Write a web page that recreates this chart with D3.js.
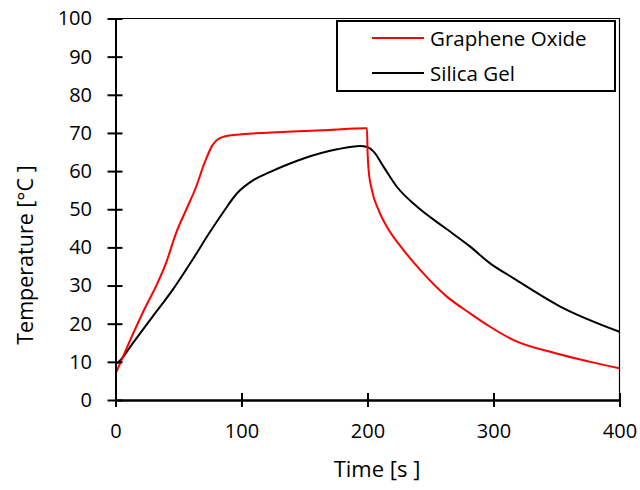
<!DOCTYPE html>
<html>
<head>
<meta charset="utf-8">
<script src="https://cdn.jsdelivr.net/npm/d3@7"></script>
<style>
  body { margin: 0; background: #fff; }
  svg { display: block; }
  text { font-family: "Open Sans", "DejaVu Sans", sans-serif; fill: #000; }
</style>
</head>
<body>
<svg id="chart" width="640" height="490"></svg>
<script>
// ---- data ----
const goTime = [0.2, 8.2, 24, 32, 40, 48, 56, 64, 70.5, 77, 82.4, 92, 136, 170, 198.2, 199.6, 200.1, 200.9, 203.5, 208.8, 215.4, 228.6, 241.8, 263, 281.5, 297.3, 316, 350, 377, 400];
const goTemp = [7.0, 13.1, 24.5, 29.7, 35.8, 43.7, 49.8, 55.9, 62.0, 66.8, 68.6, 69.4, 70.3, 70.8, 71.2, 71.2, 64.6, 60.3, 55.0, 49.8, 45.4, 39.3, 34.1, 27.1, 22.7, 19.2, 15.7, 12.2, 10.0, 8.3];
const sgTime = [1, 2.6, 13.5, 29.3, 45.2, 61, 74.3, 84.8, 96.5, 109.7, 122.9, 149.3, 175.8, 194.3, 199.6, 204.9, 212.8, 223.3, 239.2, 260.3, 281.5, 297.3, 316, 353, 400];
const sgTemp = [9.6, 10.0, 14.8, 21.8, 28.8, 36.7, 43.7, 48.9, 54.2, 57.7, 59.8, 63.3, 65.7, 66.6, 66.3, 65.1, 61.1, 55.9, 50.7, 45.4, 40.2, 35.8, 31.9, 24.5, 17.9];
const xTicks = [0, 100, 200, 300, 400];
const yTicks = [0, 10, 20, 30, 40, 50, 60, 70, 80, 90, 100];
const seriesNames = ["Graphene Oxide", "Silica Gel"];
const seriesColors = ["#ff0000", "#000000"];

const svg = d3.select("#chart");
const x = d3.scaleLinear().domain([0, 400]).range([115.5, 619.5]);
const y = d3.scaleLinear().domain([0, 100]).range([400, 18.5]);

// plot frame (top/right)
svg.append("path")
  .attr("d", `M${x(0)},${y(100)}H${x(400)}V${y(0)}`)
  .attr("fill", "none").attr("stroke", "#000").attr("stroke-width", 1.2);

// series
const line = d3.line().x(d => x(d[0])).y(d => y(d[1])).curve(d3.curveMonotoneX);
const goData = goTime.map((t, i) => [t, goTemp[i]]);
const sgData = sgTime.map((t, i) => [t, sgTemp[i]]);
svg.append("path").datum(sgData).attr("d", line)
  .attr("fill", "none").attr("stroke", seriesColors[1]).attr("stroke-width", 2);
svg.append("path").datum(goData).attr("d", line)
  .attr("fill", "none").attr("stroke", seriesColors[0]).attr("stroke-width", 2);

// axes
const yAxis = d3.axisLeft(y).tickValues(yTicks).tickSize(8).tickSizeOuter(0).tickPadding(15.5);
const yAxisIn = d3.axisRight(y).tickValues(yTicks).tickSize(7).tickSizeOuter(0).tickFormat("");
const xAxis = d3.axisBottom(x).tickValues(xTicks).tickSize(7).tickSizeOuter(0).tickPadding(17);
const xAxisIn = d3.axisTop(x).tickValues(xTicks).tickSize(7).tickSizeOuter(0).tickFormat("");

function style(g) {
  g.selectAll("path, line").attr("stroke", "#000").attr("stroke-width", 2);
  g.selectAll("text").attr("font-size", 20).attr("fill", "#000")
    .style("font-family", '"Open Sans", "DejaVu Sans", sans-serif');
}
svg.append("g").attr("transform", `translate(${x(0)},0)`).call(yAxisIn).call(style);
svg.append("g").attr("transform", `translate(0,${y(0)})`).call(xAxisIn).call(style);
svg.append("g").attr("transform", `translate(${x(0)},0)`).call(yAxis).call(style);
svg.append("g").attr("transform", `translate(0,${y(0)})`).call(xAxis).call(style);

// axis titles
svg.append("text").attr("x", 377).attr("y", 477).attr("text-anchor", "middle")
  .attr("font-size", 22).text("Time [s ]");
svg.append("text").attr("transform", "translate(33,255) rotate(-90)")
  .attr("text-anchor", "middle").attr("font-size", 21.5).text("Temperature [°C ]");

// legend
const lg = svg.append("g");
lg.append("rect").attr("x", 337).attr("y", 21).attr("width", 278).attr("height", 70)
  .attr("fill", "#fff").attr("stroke", "#000").attr("stroke-width", 2);
seriesNames.forEach((name, i) => {
  const cy = 38 + i * 35;
  lg.append("line").attr("x1", 372).attr("x2", 424).attr("y1", cy).attr("y2", cy)
    .attr("stroke", seriesColors[i]).attr("stroke-width", 2);
  lg.append("text").attr("x", 430).attr("y", cy + 8).attr("font-size", 20.5).text(name);
});
</script>
</body>
</html>
